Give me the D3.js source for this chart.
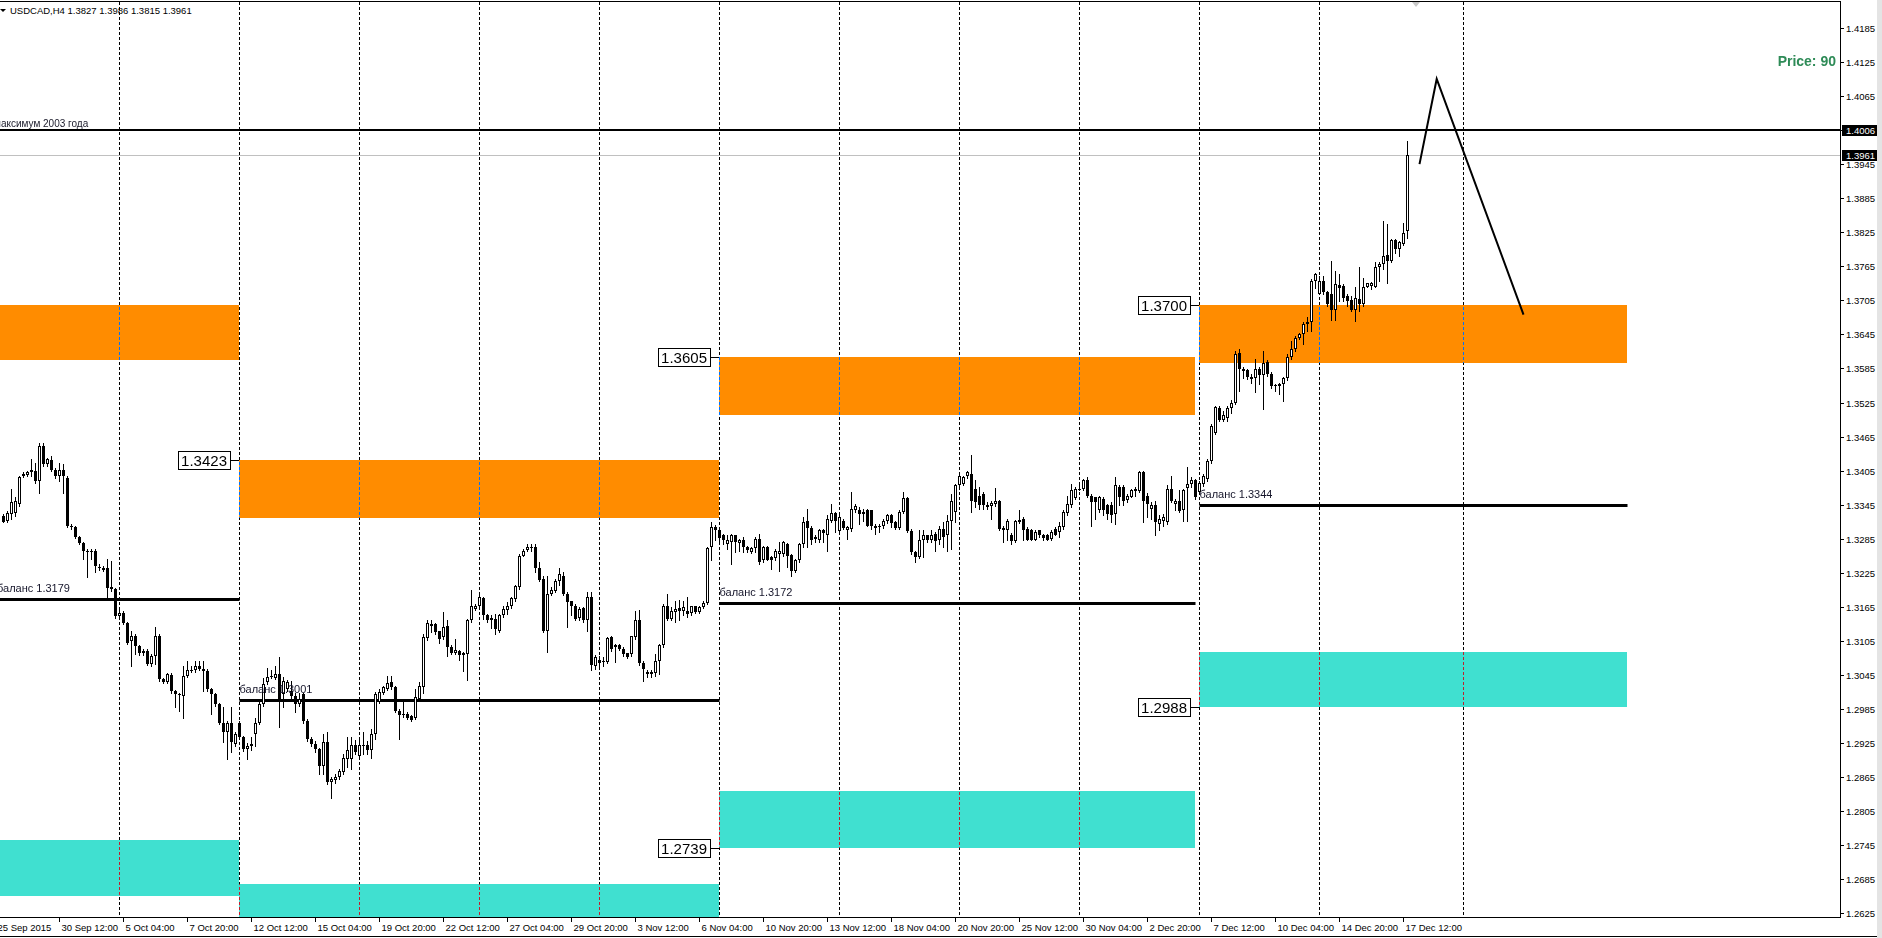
<!DOCTYPE html>
<meta charset="utf-8">
<script src="https://cdn.jsdelivr.net/npm/d3@7"></script>
<style>
    html, body { margin: 0; padding: 0; background: #fff; overflow: hidden; }
    svg { display: block; }
    text { font-family: "Liberation Sans", Arial, sans-serif; }
</style>

<svg width="1882" height="938"></svg>

<script>
    // USDCAD H4, bar 0 = 28 Sep 2015 04:00, one bar per 4 hours
    // open, high, low, close  (price * 10000)
    var ohlc = [
        [13325,13328,13314,13315],[13317,13334,13314,13331],[13328,13372,13319,13349],[13331,13358,13325,13352],
        [13346,13396,13343,13393],[13395,13402,13393,13399],[13398,13405,13396,13402],[13402,13425,13396,13406],
        [13405,13418,13384,13387],[13387,13453,13366,13449],[13449,13453,13414,13416],[13416,13427,13414,13425],
        [13423,13431,13405,13406],[13406,13410,13392,13396],[13396,13419,13387,13406],[13406,13416,13366,13396],
        [13392,13395,13305,13308],[13308,13311,13302,13305],[13305,13308,13286,13288],[13288,13290,13275,13277],
        [13277,13280,13249,13264],[13264,13267,13217,13262],[13262,13267,13249,13264],[13264,13267,13226,13237],
        [13236,13240,13230,13233],[13234,13237,13228,13230],[13234,13249,13181,13199],[13200,13246,13193,13196],
        [13196,13199,13146,13149],[13149,13164,13143,13155],[13155,13158,13134,13136],[13137,13139,13099,13102],
        [13105,13123,13061,13114],[13114,13117,13082,13096],[13096,13098,13080,13083],[13083,13090,13080,13087],
        [13087,13090,13062,13064],[13064,13082,13061,13079],[13079,13129,13064,13114],[13114,13117,13035,13038],
        [13038,13040,13030,13032],[13032,13049,13030,13046],[13045,13048,13013,13016],[13016,13018,12988,13011],
        [13011,13014,12982,13012],[13008,13061,12970,13044],[13044,13070,13041,13054],[13054,13060,13050,13053],
        [13053,13070,13050,13061],[13061,13070,13053,13055],[13052,13070,13017,13055],[13052,13055,13017,13020],
        [13020,13022,12976,13011],[13011,13014,12990,12994],[12994,12996,12958,12961],[12961,12988,12926,12944],
        [12944,12964,12897,12961],[12961,12989,12909,12926],[12923,12945,12920,12941],[12960,12963,12932,12935],
        [12935,12938,12911,12914],[12914,12925,12897,12920],[12920,12935,12912,12923],[12941,12970,12920,12961],
        [12961,12997,12958,12994],[12994,13040,12990,13029],[13032,13058,13029,13042],[13042,13053,13039,13044],
        [13040,13061,13038,13047],[13046,13076,12953,13002],[13011,13041,12988,13035],[13020,13036,13016,13032],
        [13017,13035,13005,13008],[13008,13014,12979,12994],[12994,13014,12990,13003],[13011,13014,12961,12964],
        [12964,12967,12929,12932],[12932,12935,12920,12923],[12923,12929,12909,12914],[12914,12917,12870,12885],
        [12885,12941,12870,12926],[12926,12944,12853,12856],[12856,12865,12829,12862],[12859,12870,12855,12865],
        [12865,12880,12862,12876],[12874,12905,12870,12899],[12897,12935,12883,12913],[12897,12935,12880,12922],
        [12922,12930,12905,12909],[12903,12935,12900,12922],[12922,12944,12906,12919],[12922,12929,12906,12912],
        [12912,12950,12899,12941],[12941,13015,12932,13012],[12997,13020,12995,13015],[13013,13026,13012,13024],
        [13021,13044,13018,13031],[13032,13044,13021,13024],[13024,13026,12979,12982],[12982,12985,12932,12974],
        [12974,12997,12971,12977],[12977,12980,12968,12970],[12972,12975,12964,12966],[12970,13021,12968,13006],
        [13003,13032,13000,13026],[13024,13117,13013,13112],[13110,13141,13106,13136],[13132,13141,13120,13135],
        [13134,13136,13118,13120],[13122,13123,13101,13109],[13112,13156,13109,13130],[13132,13141,13079,13095],
        [13095,13097,13082,13083],[13083,13109,13082,13089],[13088,13089,13071,13081],[13083,13085,13052,13081],
        [13082,13144,13036,13141],[13141,13195,13138,13167],[13161,13170,13160,13167],[13167,13185,13164,13182],
        [13181,13182,13144,13150],[13151,13153,13138,13141],[13141,13150,13128,13146],[13143,13153,13117,13126],
        [13123,13153,13120,13150],[13150,13166,13147,13161],[13160,13173,13153,13167],[13166,13183,13163,13181],
        [13179,13203,13176,13201],[13200,13258,13197,13255],[13255,13267,13254,13264],[13265,13276,13263,13271],
        [13271,13275,13263,13271],[13271,13275,13226,13234],[13234,13244,13211,13213],[13214,13220,13120,13122],
        [13123,13220,13085,13187],[13187,13200,13185,13195],[13193,13214,13191,13210],[13210,13234,13203,13222],
        [13220,13226,13185,13188],[13188,13191,13129,13173],[13175,13176,13150,13166],[13167,13170,13141,13144],
        [13146,13164,13141,13161],[13163,13164,13139,13141],[13141,13191,13123,13183],[13183,13191,13053,13062],
        [13060,13081,13056,13077],[13072,13079,13059,13066],[13070,13076,13060,13068],[13068,13112,13066,13110],
        [13112,13114,13088,13091],[13094,13100,13068,13097],[13097,13099,13089,13091],[13091,13094,13078,13082],
        [13083,13084,13075,13077],[13082,13114,13079,13113],[13112,13158,13109,13142],[13141,13160,13063,13066],
        [13066,13070,13034,13056],[13050,13053,13041,13046],[13050,13053,13041,13047],[13048,13082,13044,13070],
        [13070,13099,13047,13097],[13097,13170,13094,13166],[13167,13188,13142,13144],[13144,13164,13142,13158],
        [13156,13176,13138,13161],[13163,13177,13141,13157],[13157,13176,13150,13164],[13157,13182,13147,13153],
        [13154,13167,13151,13166],[13166,13167,13154,13156],[13156,13167,13154,13164],[13164,13176,13163,13171],
        [13171,13271,13170,13269],[13270,13314,13247,13305],[13305,13310,13282,13301],[13301,13302,13276,13287],
        [13291,13294,13275,13283],[13275,13291,13267,13283],[13279,13294,13241,13291],[13291,13292,13261,13279],
        [13277,13285,13264,13283],[13283,13288,13261,13270],[13270,13273,13261,13265],[13261,13271,13260,13269],
        [13269,13288,13261,13285],[13285,13294,13241,13244],[13247,13273,13244,13270],[13271,13273,13247,13248],
        [13253,13255,13232,13248],[13251,13267,13247,13264],[13258,13279,13229,13264],[13258,13281,13255,13279],
        [13275,13277,13235,13255],[13257,13258,13220,13228],[13229,13250,13226,13247],[13247,13277,13244,13275],
        [13275,13323,13270,13314],[13316,13338,13270,13304],[13304,13307,13276,13282],[13285,13291,13279,13288],
        [13282,13302,13279,13301],[13301,13302,13279,13295],[13292,13326,13264,13320],[13317,13346,13314,13330],
        [13330,13332,13297,13317],[13299,13326,13297,13323],[13317,13320,13302,13304],[13301,13308,13285,13305],
        [13302,13367,13299,13338],[13335,13346,13332,13342],[13336,13341,13311,13329],[13329,13338,13317,13332],
        [13335,13338,13307,13308],[13335,13336,13302,13307],[13304,13311,13294,13308],[13308,13311,13297,13307],
        [13308,13320,13304,13317],[13317,13329,13312,13326],[13326,13329,13305,13312],[13314,13317,13302,13304],
        [13304,13335,13302,13332],[13332,13367,13330,13357],[13357,13359,13297,13298],[13298,13302,13258,13261],
        [13261,13264,13244,13253],[13253,13301,13251,13282],[13282,13300,13253,13291],[13291,13292,13279,13282],
        [13283,13300,13279,13291],[13294,13297,13264,13281],[13282,13308,13276,13302],[13302,13314,13270,13288],
        [13291,13326,13264,13317],[13317,13364,13267,13352],[13332,13382,13314,13379],[13379,13400,13376,13395],
        [13382,13396,13379,13394],[13395,13404,13392,13402],[13399,13433,13332,13351],[13373,13388,13341,13349],
        [13361,13376,13338,13345],[13364,13367,13338,13344],[13344,13349,13338,13341],[13342,13352,13320,13348],
        [13346,13375,13343,13352],[13352,13353,13300,13302],[13304,13308,13279,13301],[13301,13320,13282,13317],
        [13292,13295,13276,13281],[13281,13318,13279,13316],[13314,13335,13312,13318],[13320,13323,13282,13301],
        [13302,13305,13282,13283],[13301,13302,13282,13283],[13283,13300,13282,13297],[13300,13301,13288,13291],
        [13291,13294,13282,13287],[13291,13294,13282,13283],[13285,13300,13282,13297],[13302,13305,13291,13292],
        [13297,13314,13288,13308],[13305,13335,13302,13332],[13330,13361,13326,13346],[13345,13382,13341,13371],
        [13357,13376,13355,13373],[13373,13382,13370,13373],[13372,13391,13370,13388],[13389,13393,13358,13361],
        [13361,13364,13308,13349],[13358,13359,13320,13349],[13335,13361,13332,13358],[13355,13358,13326,13335],
        [13344,13347,13320,13328],[13344,13349,13314,13326],[13328,13393,13311,13379],[13376,13379,13344,13358],
        [13376,13379,13344,13352],[13353,13364,13349,13361],[13359,13373,13358,13371],[13369,13376,13361,13373],
        [13369,13404,13367,13402],[13402,13404,13314,13352],[13361,13365,13323,13346],[13338,13349,13320,13345],
        [13345,13352,13291,13314],[13311,13326,13300,13320],[13317,13329,13308,13324],[13314,13379,13311,13373],
        [13373,13396,13349,13352],[13347,13355,13335,13351],[13352,13370,13332,13334],[13335,13373,13317,13370],
        [13375,13411,13317,13381],[13382,13393,13376,13388],[13388,13391,13355,13358],[13367,13387,13364,13384],
        [13381,13399,13378,13396],[13390,13425,13387,13422],[13422,13487,13419,13484],[13472,13519,13469,13517],
        [13516,13519,13493,13494],[13494,13510,13493,13503],[13498,13519,13493,13516],[13516,13529,13507,13525],
        [13525,13616,13522,13611],[13613,13619,13546,13584],[13584,13587,13569,13580],[13582,13584,13566,13570],
        [13570,13575,13560,13566],[13569,13601,13543,13584],[13584,13587,13557,13574],[13574,13616,13513,13595],
        [13597,13600,13572,13575],[13575,13578,13551,13554],[13556,13558,13546,13554],[13554,13560,13540,13557],
        [13557,13570,13528,13568],[13568,13610,13564,13605],[13605,13634,13601,13619],[13619,13642,13616,13639],
        [13639,13648,13637,13645],[13645,13666,13628,13663],[13663,13675,13651,13667],[13666,13742,13651,13740],
        [13739,13754,13727,13751],[13717,13748,13716,13740],[13740,13748,13717,13720],[13719,13722,13695,13698],
        [13716,13774,13670,13688],[13688,13757,13670,13733],[13732,13751,13704,13727],[13730,13733,13704,13710],
        [13713,13716,13695,13704],[13705,13713,13686,13688],[13688,13728,13669,13709],[13707,13763,13686,13698],
        [13698,13744,13695,13729],[13729,13736,13728,13735],[13730,13738,13725,13735],[13729,13772,13728,13764],
        [13763,13772,13739,13769],[13769,13845,13760,13783],[13785,13839,13736,13775],[13775,13813,13772,13811],
        [13811,13813,13789,13795],[13795,13810,13783,13807],[13805,13842,13803,13824],[13827,13986,13815,13961]
    ];

    // weekly separators (bar index), last one falls in the future area
    var gridBars = [29, 59, 89, 119, 149, 179, 209, 239, 269, 299, 329, 365];

    var timeLabels = ["25 Sep 2015", "30 Sep 12:00", "5 Oct 04:00", "7 Oct 20:00", "12 Oct 12:00", "15 Oct 04:00",
        "19 Oct 20:00", "22 Oct 12:00", "27 Oct 04:00", "29 Oct 20:00", "3 Nov 12:00", "6 Nov 04:00",
        "10 Nov 20:00", "13 Nov 12:00", "18 Nov 04:00", "20 Nov 20:00", "25 Nov 12:00", "30 Nov 04:00",
        "2 Dec 20:00", "7 Dec 12:00", "10 Dec 04:00", "14 Dec 20:00", "17 Dec 12:00"];
    var timeLabelBars = [-2, 14, 30, 46, 62, 78, 94, 110, 126, 142, 158, 174, 190, 206, 222, 238, 254, 270,
        286, 302, 318, 334, 350];

    var priceTicks = [1.2625, 1.2685, 1.2745, 1.2805, 1.2865, 1.2925, 1.2985, 1.3045, 1.3105, 1.3165, 1.3225,
        1.3285, 1.3345, 1.3405, 1.3465, 1.3525, 1.3585, 1.3645, 1.3705, 1.3765, 1.3825, 1.3885, 1.3945,
        1.4005, 1.4065, 1.4125, 1.4185];

    // weekly zones: bar range, sell zone (orange), buy zone (turquoise), balance line
    var zoneFrom = [-20, 59, 179, 299];
    var zoneTo = [59, 179, 298, 406];
    var sellTop = [1.3697, 1.3423, 1.3605, 1.3697];
    var sellBottom = [1.3600, 1.3322, 1.3503, 1.3595];
    var buyTop = [1.2754, 1.2676, 1.2841, 1.3086];
    var buyBottom = [1.2655, 1.2570, 1.2740, 1.2988];
    var balance = [1.3179, 1.3001, 1.3172, 1.3344];

    // price tags on the left of the zones
    var tagZone = [1, 2, 2, 3, 3];
    var tagPrice = [1.3423, 1.3605, 1.2740, 1.3697, 1.2988];
    var tagText = ["1.3423", "1.3605", "1.2739", "1.3700", "1.2988"];

    var max2003 = 1.4006;
    var bid = 1.3961;

    // hand drawn forecast
    var forecastBars = [354, 358.3, 380];
    var forecastPrices = [1.3945, 1.4095, 1.3680];

    var svg = d3.select("svg"),
        width = +svg.attr("width"),
        height = +svg.attr("height");

    var plotRight = 1840, plotTop = 2, plotBottom = 917;

    var x = d3.scaleLinear().domain([0, 100]).range([3.5, 403.5]);
    var y = d3.scaleLinear().domain([1.2625, 1.4125]).range([913.3, 62]);

    svg.append("rect").attr("width", width).attr("height", height).attr("fill", "#fff");

    svg.append("clipPath").attr("id", "clip")
        .append("rect").attr("x", 0).attr("y", plotTop).attr("width", plotRight).attr("height", plotBottom - plotTop);

    var plot = svg.append("g").attr("clip-path", "url(#clip)");
    // backdrop inside the clipped group, so the inverted grid has something to blend with
    plot.append("rect").attr("x", 0).attr("y", 0).attr("width", plotRight).attr("height", plotBottom).attr("fill", "#fff");

    // zones
    var zx = function (i) { return Math.floor(x(zoneFrom[i])); };
    var zw = function (i) { return Math.floor(x(zoneTo[i])) - Math.floor(x(zoneFrom[i])); };
    plot.append("g").selectAll("rect").data(d3.range(zoneFrom.length)).enter().append("rect")
        .attr("x", zx).attr("width", zw)
        .attr("y", function (i) { return Math.round(y(sellTop[i])); })
        .attr("height", function (i) { return Math.round(y(sellBottom[i])) - Math.round(y(sellTop[i])); })
        .attr("fill", "#ff8c00");
    plot.append("g").selectAll("rect").data(d3.range(zoneFrom.length)).enter().append("rect")
        .attr("x", zx).attr("width", zw)
        .attr("y", function (i) { return Math.round(y(buyTop[i])); })
        .attr("height", function (i) { return Math.round(y(buyBottom[i])) - Math.round(y(buyTop[i])); })
        .attr("fill", "#40e0d0");

    // grid, drawn inverted like the terminal does
    plot.append("g").style("mix-blend-mode", "difference")
        .selectAll("line").data(gridBars).enter().append("line")
        .attr("x1", function (d) { return x(d); }).attr("x2", function (d) { return x(d); })
        .attr("y1", plotTop).attr("y2", plotBottom)
        .attr("stroke", "#fff").attr("stroke-dasharray", "3,2");

    // balance lines
    plot.append("g").selectAll("line").data(d3.range(balance.length)).enter().append("line")
        .attr("x1", function (i) { return x(zoneFrom[i]); })
        .attr("x2", function (i) { return x(zoneTo[i]); })
        .attr("y1", function (i) { return Math.round(y(balance[i])) + 0.5; })
        .attr("y2", function (i) { return Math.round(y(balance[i])) + 0.5; })
        .attr("stroke", "#000").attr("stroke-width", 3);

    // 2003 high and bid line
    plot.append("line").attr("x1", 0).attr("x2", plotRight)
        .attr("y1", Math.round(y(max2003))).attr("y2", Math.round(y(max2003)))
        .attr("stroke", "#000").attr("stroke-width", 2);
    plot.append("line").attr("x1", 0).attr("x2", plotRight)
        .attr("y1", Math.round(y(bid)) + 0.5).attr("y2", Math.round(y(bid)) + 0.5)
        .attr("stroke", "#c0c0c0");

    // forecast
    var fc = forecastBars.map(function (b, k) { return [b, forecastPrices[k]]; });
    plot.append("path").datum(fc)
        .attr("d", d3.line().x(function (d) { return x(d[0]); }).y(function (d) { return y(d[1]); }))
        .attr("fill", "none").attr("stroke", "#000").attr("stroke-width", 2);

    // candles
    var candle = plot.append("g").selectAll("g").data(ohlc).enter().append("g");
    candle.append("line")
        .attr("x1", function (d, i) { return x(i); }).attr("x2", function (d, i) { return x(i); })
        .attr("y1", function (d) { return Math.round(y(d[1] / 1e4)); })
        .attr("y2", function (d) { return Math.round(y(d[2] / 1e4)) + 1; })
        .attr("stroke", "#000");
    candle.each(function (d, i) {
        var g = d3.select(this), o = d[0] / 1e4, c = d[3] / 1e4;
        var top = Math.round(y(Math.max(o, c))), bot = Math.round(y(Math.min(o, c)));
        if (bot - top < 2) {
            g.append("rect").attr("x", x(i) - 1.5).attr("y", top).attr("width", 3).attr("height", 1).attr("fill", "#000");
        } else if (c > o) {
            g.append("rect").attr("x", x(i) - 1).attr("y", top + 0.5).attr("width", 2).attr("height", bot - top - 1)
                .attr("fill", "#fff").attr("stroke", "#000");
        } else {
            g.append("rect").attr("x", x(i) - 1.5).attr("y", top).attr("width", 3).attr("height", bot - top)
                .attr("fill", "#000");
        }
    });

    // texts inside the chart
    plot.append("text").attr("x", -6).attr("y", Math.round(y(max2003)) - 3)
        .attr("font-size", 10).attr("fill", "#1a1a2a").text("максимум 2003 года");

    plot.append("g").selectAll("text").data(d3.range(balance.length)).enter().append("text")
        .attr("x", function (i) { return Math.max(x(zoneFrom[i]), -3); })
        .attr("y", function (i) { return Math.round(y(balance[i])) - 7; })
        .attr("font-size", 11).attr("fill", "#15152a")
        .text(function (i) { return "баланс " + balance[i].toFixed(4); });

    var tag = plot.append("g").selectAll("g").data(d3.range(tagText.length)).enter().append("g");
    tag.each(function (k) {
        var g = d3.select(this),
            zl = Math.floor(x(zoneFrom[tagZone[k]])),
            py = Math.round(y(tagPrice[k])) + 0.5;
        var t = g.append("text").attr("font-size", 15).attr("text-anchor", "end").text(tagText[k]);
        var tw = t.node().getComputedTextLength();
        var right = zl - 9;
        g.insert("rect", "text").attr("x", Math.round(right - tw - 6) + 0.5).attr("y", py - 9)
            .attr("width", Math.round(tw + 6)).attr("height", 18)
            .attr("fill", "#fff").attr("stroke", "#000");
        t.attr("x", right - 3).attr("y", py + 5.5);
        g.append("line").attr("x1", right + 0.5).attr("x2", zl).attr("y1", py).attr("y2", py).attr("stroke", "#000");
    });

    plot.append("text").attr("x", 1836).attr("y", 66).attr("text-anchor", "end")
        .attr("font-size", 14).attr("font-weight", "bold").attr("fill", "#2e8b57").text("Price: 90");

    // chart shift marker
    svg.append("path").attr("d", "M1412,2L1420,2L1416,7Z").attr("fill", "#c8c8c8");

    // header
    svg.append("path").attr("d", "M0,9L6,9L3,12Z").attr("fill", "#000");
    svg.append("text").attr("x", 10).attr("y", 14).attr("font-size", 9.5).attr("fill", "#000")
        .text("USDCAD,H4  1.3827 1.3986 1.3815 1.3961");

    // frame
    svg.append("line").attr("x1", 0).attr("x2", plotRight + 0.5).attr("y1", 1.5).attr("y2", 1.5).attr("stroke", "#000");
    svg.append("line").attr("x1", 0).attr("x2", plotRight + 0.5).attr("y1", plotBottom + 0.5).attr("y2", plotBottom + 0.5).attr("stroke", "#000");
    svg.append("line").attr("x1", plotRight + 0.5).attr("x2", plotRight + 0.5).attr("y1", 1).attr("y2", plotBottom + 1).attr("stroke", "#000");

    // price axis
    var pa = svg.append("g").selectAll("g").data(priceTicks).enter().append("g")
        .attr("transform", function (d) { return "translate(0," + (Math.round(y(d)) + 0.5) + ")"; });
    pa.append("line").attr("x1", plotRight).attr("x2", plotRight + 4).attr("stroke", "#000");
    pa.append("text").attr("x", plotRight + 6).attr("dy", "0.35em").attr("font-size", 9.5).attr("fill", "#000")
        .text(function (d) { return d.toFixed(4); });

    [max2003, bid].forEach(function (p) {
        var py = Math.round(y(p));
        svg.append("rect").attr("x", plotRight + 2).attr("y", py - 5).attr("width", 38).attr("height", 11).attr("fill", "#000");
        svg.append("text").attr("x", plotRight + 6).attr("y", py + 4).attr("font-size", 9.5).attr("fill", "#fff")
            .text(p.toFixed(4));
    });

    // time axis
    var ta = svg.append("g").selectAll("g").data(timeLabelBars).enter().append("g")
        .attr("transform", function (d) { return "translate(" + x(d) + ",0)"; });
    ta.append("line").attr("y1", plotBottom).attr("y2", plotBottom + 5).attr("stroke", "#000");
    ta.append("text").attr("x", 2).attr("y", 931).attr("font-size", 9.5).attr("fill", "#000")
        .text(function (d, i) { return timeLabels[i]; });

    // window edges
    svg.append("line").attr("x1", 0).attr("x2", width).attr("y1", 936.5).attr("y2", 936.5).attr("stroke", "#000");
    svg.append("rect").attr("x", 1877).attr("y", 0).attr("width", 5).attr("height", height).attr("fill", "#e4e4e4");
</script>
